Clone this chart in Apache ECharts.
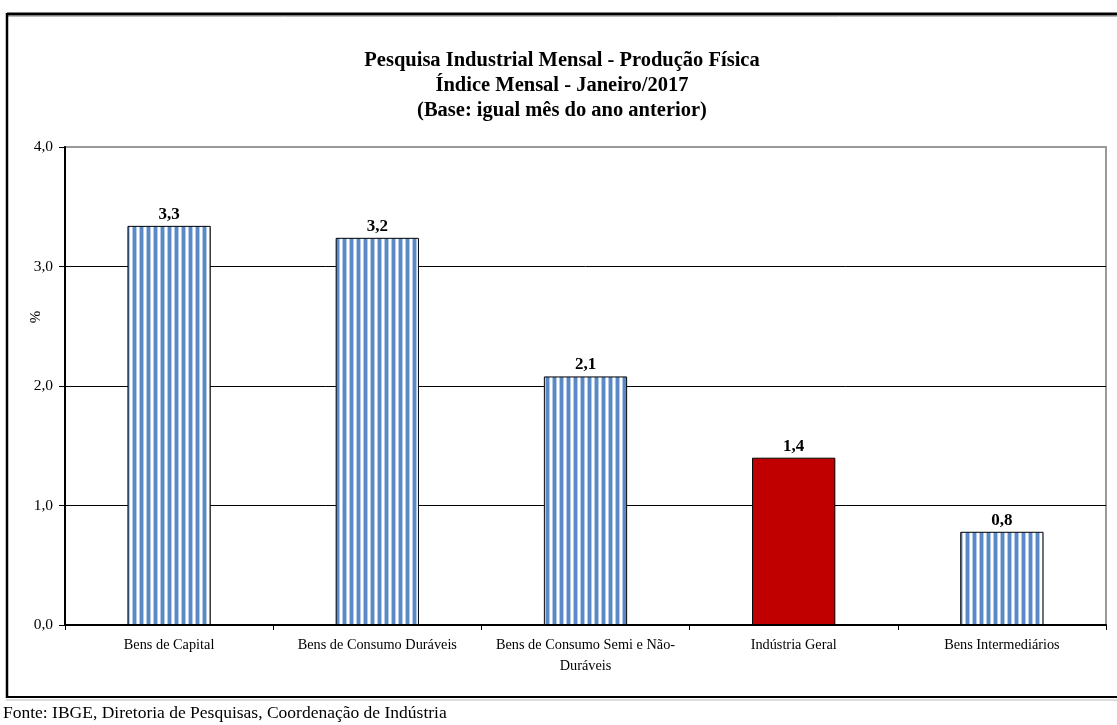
<!DOCTYPE html>
<html>
<head>
<meta charset="utf-8">
<script src="https://cdn.jsdelivr.net/npm/echarts@6/dist/echarts.min.js"></script>
<style>
html,body{margin:0;padding:0;background:#fff;}
#c{width:1117px;height:725px;}
</style>
</head>
<body>
<div id="c"></div>
<script>
var categories = ['Bens de Capital', 'Bens de Consumo Duráveis', 'Bens de Consumo Semi e Não-\nDuráveis', 'Indústria Geral', 'Bens Intermediários'];
var values = [3.34, 3.24, 2.08, 1.40, 0.78];
var highlighted = [false, false, false, true, false];
var yTicks = [0, 1, 2, 3, 4];
var titleLines = ['Pesquisa Industrial Mensal - Produção Física', 'Índice Mensal - Janeiro/2017', '(Base: igual mês do ano anterior)'];
var footer = 'Fonte: IBGE, Diretoria de Pesquisas, Coordenação de Indústria';

var FONT = '"Liberation Serif", "DejaVu Serif", serif';

// vertical stripe pattern
var pc = document.createElement('canvas');
pc.width = 7; pc.height = 10;
var px = pc.getContext('2d');
px.fillStyle = '#ffffff'; px.fillRect(0, 0, 7, 10);
px.fillStyle = '#5a89c6'; px.fillRect(0, 0, 3, 10);
px.fillStyle = '#b3cbe8'; px.fillRect(3, 0, 1, 10); px.fillRect(6, 0, 1, 10);

var chart = echarts.init(document.getElementById('c'), null, {renderer: 'canvas'});

var data = values.map(function (v, i) {
  return {
    value: v,
    itemStyle: highlighted[i] ? {color: '#c00000'} : {color: {image: pc, repeat: 'repeat'}}
  };
});

chart.setOption({
  backgroundColor: '#ffffff',
  animation: false,
  title: {
    text: titleLines.join('\n'),
    left: 557,
    top: 43,
    textAlign: 'center',
    textStyle: {fontFamily: FONT, fontWeight: 'bold', fontSize: 20.5, lineHeight: 25, color: '#000'}
  },
  grid: {
    left: 65, right: 11, top: 147, bottom: 100,
    show: true, borderColor: '#999999', borderWidth: 2, backgroundColor: 'transparent'
  },
  xAxis: {
    type: 'category',
    data: categories,
    axisLine: {lineStyle: {color: '#000', width: 2}},
    axisTick: {show: true, length: 5, lineStyle: {color: '#000', width: 1}},
    axisLabel: {fontFamily: FONT, fontSize: 14.3, color: '#000', margin: 10, lineHeight: 21, interval: 0}
  },
  yAxis: {
    type: 'value',
    min: 0, max: 4, interval: 1,
    axisLine: {show: true, lineStyle: {color: '#000', width: 2}},
    axisTick: {show: true, length: 6, lineStyle: {color: '#000', width: 1}},
    axisLabel: {fontFamily: FONT, fontSize: 15.5, color: '#000', margin: 12,
      formatter: function (v) { return v.toFixed(1).replace('.', ','); }},
    splitLine: {show: true, showMaxLine: false, lineStyle: {color: '#000', width: 1}}
  },
  series: [{
    type: 'bar',
    data: data,
    barWidth: '40%',
    itemStyle: {borderColor: '#000', borderWidth: 1},
    label: {
      show: true, position: 'top', distance: 3,
      fontFamily: FONT, fontWeight: 'bold', fontSize: 17, color: '#000',
      formatter: function (p) { return p.value.toFixed(1).replace('.', ','); }
    }
  }],
  graphic: [
    {type: 'line', shape: {x1: 7, y1: 14, x2: 1117, y2: 14}, style: {stroke: '#000', lineWidth: 3}},
    {type: 'line', shape: {x1: 7, y1: 16.5, x2: 1117, y2: 16.5}, style: {stroke: '#bbbbbb', lineWidth: 1}},
    {type: 'line', shape: {x1: 7, y1: 13, x2: 7, y2: 698}, style: {stroke: '#000', lineWidth: 2.5}},
    {type: 'line', shape: {x1: 6, y1: 697, x2: 1117, y2: 697}, style: {stroke: '#000', lineWidth: 2}},
    {type: 'line', shape: {x1: 6, y1: 700, x2: 1117, y2: 700}, style: {stroke: '#dddddd', lineWidth: 2}},
    {type: 'text', x: 36, y: 317, rotation: Math.PI / 2,
      style: {text: '%', font: '15px ' + FONT, fill: '#000', textAlign: 'center', textVerticalAlign: 'middle'}},
    {type: 'text', x: 3, y: 713,
      style: {text: footer, font: '17.5px ' + FONT, fill: '#000', textAlign: 'left', textVerticalAlign: 'middle'}}
  ]
});
</script>
</body>
</html>
